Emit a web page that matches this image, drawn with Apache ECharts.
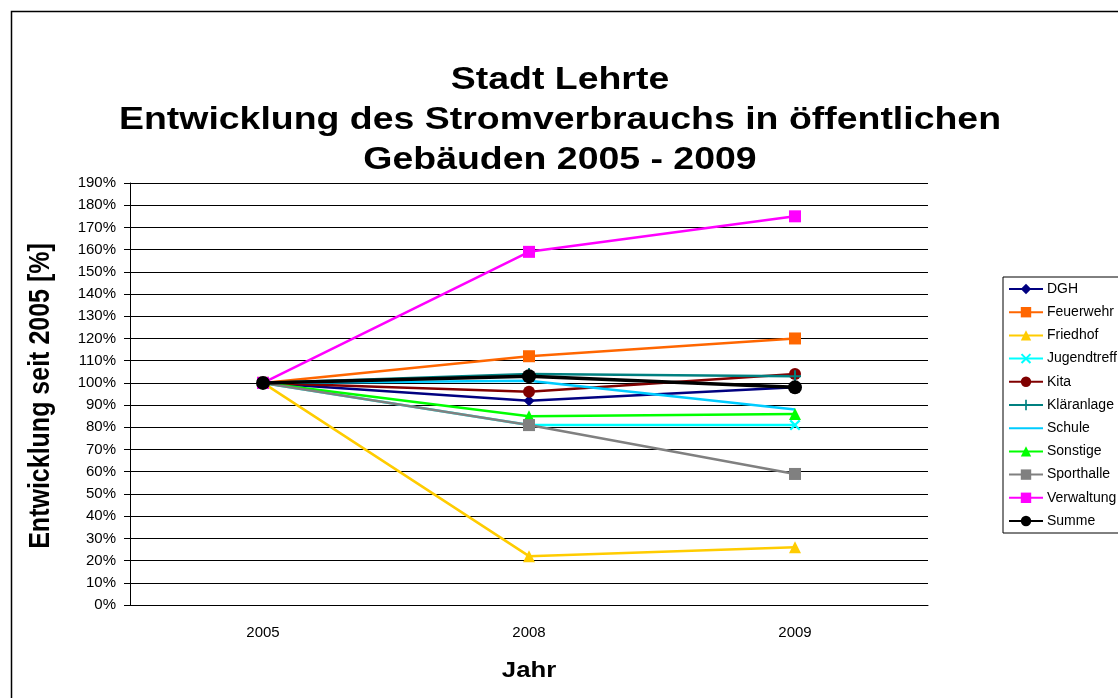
<!DOCTYPE html>
<html>
<head>
<meta charset="utf-8">
<title>Stadt Lehrte</title>
<script src="https://cdn.jsdelivr.net/npm/echarts@6/dist/echarts.min.js"></script>
<style>
  html, body { margin: 0; padding: 0; background: #fff; }
  #chart { width: 1118px; height: 698px; }
</style>
</head>
<body>
<div id="chart"></div>
<script>
const years = ['2005', '2008', '2009']
const dgh = [100, 92, 98]
const feuerwehr = [100, 112, 120]
const friedhof = [100, 22, 26]
const jugendtreff = [100, 81, 81]
const kita = [100, 96, 104]
const klaeranlage = [100, 104, 103]
const schule = [100, 101, 88]
const sonstige = [100, 85, 86]
const sporthalle = [100, 81, 59]
const verwaltung = [100, 159, 175]
const summe = [100, 103, 98]

const font = 'Liberation Sans, Arial, sans-serif'
// the original picture is a bit stretched sideways, so the big texts get scaled too
const stretch = 1.17
const crossX = 'path://M0,1.4L1.4,0L5,3.6L8.6,0L10,1.4L6.4,5L10,8.6L8.6,10L5,6.4L1.4,10L0,8.6L3.6,5Z'
const crossPlus = 'path://M4.2,0H5.8V4.2H10V5.8H5.8V10H4.2V5.8H0V4.2H4.2Z'

function line(name, data, color, symbol, size, width) {
  return {
    name: name,
    type: 'line',
    data: data,
    symbol: symbol,
    symbolSize: size,
    showSymbol: size > 0,
    color: color,
    lineStyle: { color: color, width: width || 2.5 },
    itemStyle: { color: color },
    emphasis: { disabled: true },
    animation: false
  }
}

const chart = echarts.init(document.getElementById('chart'))
const option = {
  backgroundColor: '#fff',
  graphic: [
    {
      type: 'rect',
      shape: { x: 11.5, y: 11.5, width: 1200, height: 800 },
      style: { fill: 'none', stroke: '#000', lineWidth: 1.5 },
      silent: true
    },
    {
      type: 'text',
      x: 560,
      y: 60,
      scaleX: stretch,
      style: {
        text: 'Stadt Lehrte\nEntwicklung des Stromverbrauchs in öffentlichen\nGebäuden 2005 - 2009',
        fontFamily: font, fontSize: 32, fontWeight: 'bold', lineHeight: 40,
        align: 'center', verticalAlign: 'top', fill: '#000'
      }
    },
    {
      type: 'text',
      x: 41,
      y: 396,
      rotation: Math.PI / 2,
      scaleY: stretch,
      style: {
        text: 'Entwicklung seit 2005 [%]',
        fontFamily: font, fontSize: 25, fontWeight: 'bold',
        align: 'center', verticalAlign: 'middle', fill: '#000'
      }
    },
    {
      type: 'text',
      x: 529,
      y: 671,
      scaleX: stretch,
      style: {
        text: 'Jahr',
        fontFamily: font, fontSize: 22, fontWeight: 'bold',
        align: 'center', verticalAlign: 'middle', fill: '#000'
      }
    }
  ],
  legend: {
    orient: 'vertical',
    left: 1003,
    top: 277,
    padding: [5, 5, 5, 5],
    itemWidth: 34,
    itemHeight: 13,
    itemGap: 9.2,
    borderColor: '#000',
    borderWidth: 1,
    textStyle: { fontFamily: font, fontSize: 14, color: '#000', padding: [0, 0, 0, -1] },
    data: ['DGH', 'Feuerwehr', 'Friedhof', 'Jugendtreff', 'Kita', 'Kläranlage',
      { name: 'Schule', itemStyle: { opacity: 0 } },
      'Sonstige', 'Sporthalle', 'Verwaltung', 'Summe']
  },
  grid: { left: 130, right: 190, top: 183, bottom: 93 },
  xAxis: {
    type: 'category',
    data: years,
    boundaryGap: true,
    axisLine: { lineStyle: { color: '#000', width: 1 } },
    axisTick: { length: 6, lineStyle: { color: '#000' } },
    axisLabel: { fontFamily: font, fontSize: 15, color: '#000', margin: 20 }
  },
  yAxis: {
    type: 'value',
    min: 0,
    max: 190,
    interval: 10,
    axisLine: { show: true, lineStyle: { color: '#000', width: 1 } },
    axisTick: { show: true, length: 6, lineStyle: { color: '#000' } },
    axisLabel: { fontFamily: font, fontSize: 15, color: '#000', margin: 14, formatter: '{value}%' },
    splitLine: { lineStyle: { color: '#000', width: 1 } }
  },
  series: [
    line('DGH', dgh, '#000080', 'diamond', 11),
    line('Feuerwehr', feuerwehr, '#FF6600', 'rect', 12),
    line('Friedhof', friedhof, '#FFCC00', 'triangle', 12),
    line('Jugendtreff', jugendtreff, '#00FFFF', crossX, 11),
    line('Kita', kita, '#800000', 'circle', 12),
    line('Kläranlage', klaeranlage, '#008080', crossPlus, 12),
    line('Schule', schule, '#00CCFF', 'circle', 0),
    line('Sonstige', sonstige, '#00FF00', 'triangle', 12),
    line('Sporthalle', sporthalle, '#808080', 'rect', 12),
    line('Verwaltung', verwaltung, '#FF00FF', 'rect', 12),
    line('Summe', summe, '#000000', 'circle', 14, 3.5)
  ]
}
chart.setOption(option)
</script>
</body>
</html>
